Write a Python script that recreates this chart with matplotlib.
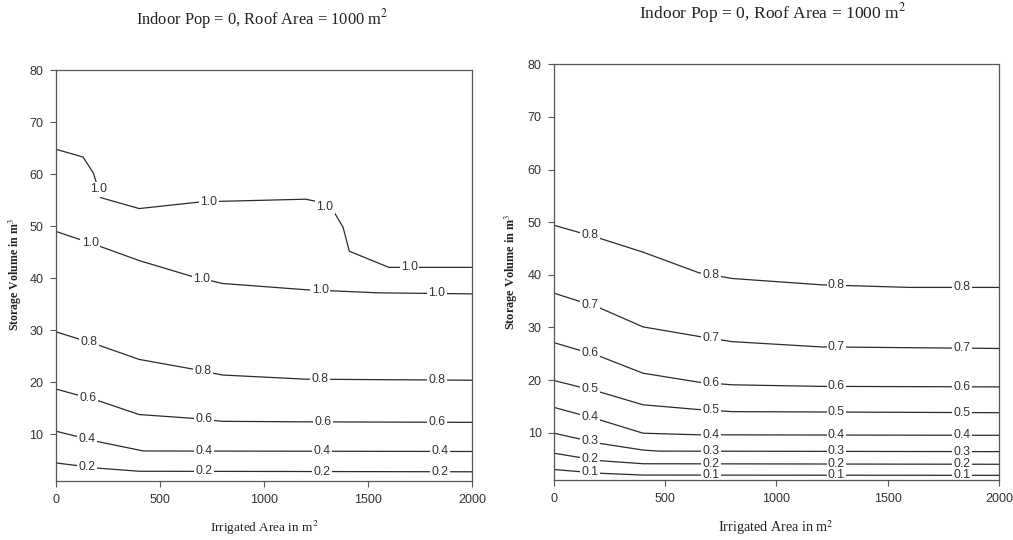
import numpy as np
import matplotlib
matplotlib.use("Agg")
import matplotlib.pyplot as plt

plt.rcParams['font.family'] = ['Liberation Sans', 'DejaVu Sans']
plt.rcParams['mathtext.fontset'] = 'stix'

# ---------- data ----------
title_txt = r'Indoor Pop = 0, Roof Area = 1000 m$^2$'
xlab = r'Irrigated Area in m$^{2}$'
ylab = r'Storage Volume in m$^3$'

# left panel contours: (level text, x, y, label x positions)
L_10a_x = [0, 130, 180, 215, 400, 700, 1200, 1250, 1340, 1380, 1410, 1600, 2000]
L_10a_y = [64.8, 63.3, 60.2, 55.5, 53.4, 54.7, 55.2, 54.8, 52.5, 49.8, 45.2, 42.1, 42.1]
L_10b_x = [0, 200, 400, 650, 800, 1200, 1550, 2000]
L_10b_y = [49.0, 46.3, 43.4, 40.4, 39.0, 37.8, 37.2, 37.0]
L_08_x = [0, 200, 400, 650, 800, 1200, 1600, 2000]
L_08_y = [29.7, 27.2, 24.4, 22.6, 21.4, 20.6, 20.5, 20.4]
L_06_x = [0, 200, 400, 650, 800, 1200, 2000]
L_06_y = [18.7, 16.5, 13.8, 13.1, 12.5, 12.4, 12.3]
L_04_x = [0, 200, 420, 2000]
L_04_y = [10.6, 8.6, 6.8, 6.7]
L_02_x = [0, 200, 400, 2000]
L_02_y = [4.5, 3.5, 2.9, 2.8]

left_lines = [
    ('1.0', L_10a_x, L_10a_y, [203, 736, 1293, 1699]),
    ('1.0', L_10b_x, L_10b_y, [165, 700, 1270, 1830]),
    ('0.8', L_08_x, L_08_y, [160, 705, 1270, 1830]),
    ('0.6', L_06_x, L_06_y, [155, 710, 1285, 1830]),
    ('0.4', L_04_x, L_04_y, [150, 712, 1280, 1846]),
    ('0.2', L_02_x, L_02_y, [150, 712, 1280, 1846]),
]

# right panel contours
R_08_x = [0, 200, 400, 650, 800, 1200, 1600, 2000]
R_08_y = [49.4, 47.0, 44.3, 40.4, 39.3, 38.1, 37.6, 37.6]
R_07_x = [0, 200, 400, 650, 800, 1200, 2000]
R_07_y = [36.5, 33.8, 30.1, 28.3, 27.3, 26.3, 26.0]
R_06_x = [0, 200, 400, 650, 800, 1200, 2000]
R_06_y = [27.1, 24.6, 21.3, 19.6, 19.1, 18.8, 18.7]
R_05_x = [0, 200, 400, 650, 800, 2000]
R_05_y = [19.9, 17.8, 15.3, 14.4, 14.0, 13.8]
R_04_x = [0, 200, 400, 650, 2000]
R_04_y = [14.8, 12.5, 9.9, 9.6, 9.5]
R_03_x = [0, 200, 400, 470, 2000]
R_03_y = [9.9, 8.0, 6.7, 6.5, 6.4]
R_02_x = [0, 200, 400, 2000]
R_02_y = [6.1, 4.7, 4.1, 4.0]
R_01_x = [0, 200, 400, 2000]
R_01_y = [3.0, 2.3, 1.95, 1.9]

right_lab_x = [160, 705, 1270, 1835]
right_lines = [
    ('0.8', R_08_x, R_08_y, right_lab_x),
    ('0.7', R_07_x, R_07_y, right_lab_x),
    ('0.6', R_06_x, R_06_y, right_lab_x),
    ('0.5', R_05_x, R_05_y, right_lab_x),
    ('0.4', R_04_x, R_04_y, right_lab_x),
    ('0.3', R_03_x, R_03_y, right_lab_x),
    ('0.2', R_02_x, R_02_y, right_lab_x),
    ('0.1', R_01_x, R_01_y, right_lab_x),
]

xticks = [0, 500, 1000, 1500, 2000]
yticks = [10, 20, 30, 40, 50, 60, 70, 80]

fig = plt.figure(figsize=(10.13, 5.40), dpi=100)
ax1 = fig.add_axes([0.0553, 0.109, 0.4107, 0.761])
ax2 = fig.add_axes([0.547, 0.111, 0.439, 0.770])

line_c = '#2b2b2b'
spine_c = '#555555'


def draw_panel(ax, lines):
    for lev, xs, ys, lx in lines:
        ax.plot(xs, ys, color=line_c, lw=0.9, zorder=2)
        for xl in lx:
            yl = np.interp(xl, xs, ys)
            ax.text(xl, yl, lev, ha='center', va='center', fontsize=8.8,
                    color='#333333', zorder=3,
                    bbox=dict(fc='white', ec='none', pad=1.0))
    ax.set_xlim(0, 2000)
    ax.set_ylim(1, 80)
    ax.set_xticks(xticks)
    ax.set_yticks(yticks)
    ax.tick_params(direction='out', length=4, width=0.8, labelsize=9,
                   colors=spine_c, labelcolor='#333333', pad=5)
    for s in ax.spines.values():
        s.set_color(spine_c)
        s.set_linewidth(0.9)
        s.set_zorder(5)


draw_panel(ax1, left_lines)
draw_panel(ax2, right_lines)

serif = ['Liberation Serif', 'DejaVu Serif']
fig.text(262 / 1013, 1 - 19 / 540, title_txt, ha='center', va='center',
         fontsize=11.9, family=serif, color='#222222')
fig.text(773 / 1013, 1 - 13 / 540, title_txt, ha='center', va='center',
         fontsize=12.6, family=serif, color='#222222')
fig.text(264 / 1013, 1 - 528 / 540, xlab, ha='center', va='center',
         fontsize=9.5, family=serif, color='#222222')
fig.text(776 / 1013, 1 - 528 / 540, xlab, ha='center', va='center',
         fontsize=10.2, family=serif, color='#222222')
fig.text(15 / 1013, 1 - 275 / 540, ylab, ha='center', va='center', rotation=90,
         fontsize=8.6, family=serif, fontweight='bold', color='#222222')
fig.text(511 / 1013, 1 - 272 / 540, ylab, ha='center', va='center', rotation=90,
         fontsize=8.8, family=serif, fontweight='bold', color='#222222')

fig.savefig('out.png', dpi=100)
